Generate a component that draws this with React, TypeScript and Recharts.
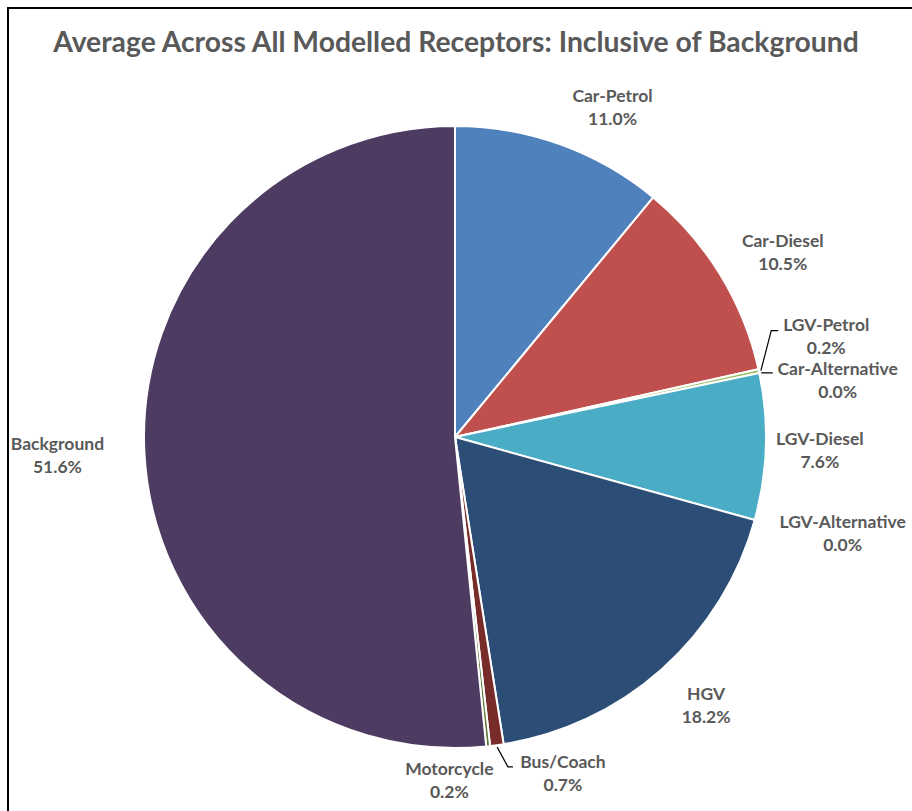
import React from 'react';
import { PieChart, Pie, Cell } from 'recharts';

const categories = ['Car-Petrol', 'Car-Diesel', 'LGV-Petrol', 'Car-Alternative', 'LGV-Diesel', 'LGV-Alternative', 'HGV', 'Bus/Coach', 'Motorcycle', 'Background'];
const values = [11.0, 10.5, 0.2, 0.0, 7.6, 0.0, 18.2, 0.7, 0.2, 51.6];
const colors = ['#4F81BD', '#C0504D', '#9BBB59', '#8064A2', '#4BACC6', '#F79646', '#2C4D75', '#772C2A', '#5F7530', '#4D3B62'];
// label nudges relative to a point just outside the slice
const labelNudge: [number, number][] = [[42, -9], [37, -7], [38, -29], [49, 13], [24, 2], [59, 5], [24, 14], [62, -2], [-42, 4], [-57, 1]];

const data = categories.map((name, i) => ({ name, value: values[i] }));

const RADIAN = Math.PI / 180;
const FONT = 'Lato, "Open Sans", sans-serif';

const renderLabel = (props: any) => {
  const { cx, cy, midAngle, outerRadius, index } = props;
  const R = outerRadius + 30;
  const bx = cx + R * Math.cos(-midAngle * RADIAN);
  const by = cy + R * Math.sin(-midAngle * RADIAN);
  const [dx, dy] = labelNudge[index];
  const x = bx + dx;
  const y = by + dy;
  const sx = cx + (outerRadius + 2) * Math.cos(-midAngle * RADIAN);
  const sy = cy + (outerRadius + 2) * Math.sin(-midAngle * RADIAN);
  let leader: React.ReactNode = null;
  if (index === 2) {
    leader = <polyline points={`${sx},${sy} ${x - 55},${y - 5} ${x - 48},${y - 5}`} fill="none" stroke="#000" strokeWidth={1.2} />;
  } else if (index === 3) {
    leader = <polyline points={`${sx},${sy} ${x - 75},${y - 7} ${x - 65},${y - 7}`} fill="none" stroke="#000" strokeWidth={1.2} />;
  } else if (index === 7) {
    leader = <polyline points={`${sx},${sy} ${x - 55},${y - 6} ${x - 50},${y - 6}`} fill="none" stroke="#000" strokeWidth={1.2} />;
  }
  return (
    <g key={`lbl-${index}`}>
      {leader}
      <text x={x} y={y - 11.5} textAnchor="middle" dominantBaseline="central" fill="#595959" fontFamily={FONT} fontWeight={700} fontSize={17.5}>
        {categories[index]}
      </text>
      <text x={x} y={y + 11.5} textAnchor="middle" dominantBaseline="central" fill="#595959" fontFamily={FONT} fontWeight={700} fontSize={17.5}>
        {values[index].toFixed(1)}%
      </text>
    </g>
  );
};

export default function App() {
  return (
    <div style={{ position: 'absolute', left: 0, top: 0, width: 912, height: 811, background: '#fff', overflow: 'hidden' }}>
      <div style={{ position: 'absolute', left: 7, top: 7, width: 920, height: 820, border: '2px solid #000', boxSizing: 'border-box' }} />
      <div style={{ position: 'absolute', left: 0, top: 22, width: 912, textAlign: 'center', fontFamily: FONT, fontWeight: 700, fontSize: 28.3, lineHeight: '38px', color: '#595959' }}>
        Average Across All Modelled Receptors: Inclusive of Background
      </div>
      <div style={{ position: 'absolute', left: 0, top: 0 }}>
        <PieChart width={912} height={811} margin={{ top: 0, right: 0, bottom: 0, left: 0 }}>
          <Pie
            data={data}
            dataKey="value"
            cx={455}
            cy={437}
            outerRadius={311}
            startAngle={90}
            endAngle={-270}
            stroke="#fff"
            strokeWidth={2}
            isAnimationActive={false}
            labelLine={false}
            label={renderLabel}
            minAngle={0}
          >
            {data.map((d, i) => (
              <Cell key={d.name} fill={colors[i]} />
            ))}
          </Pie>
        </PieChart>
      </div>
    </div>
  );
}
